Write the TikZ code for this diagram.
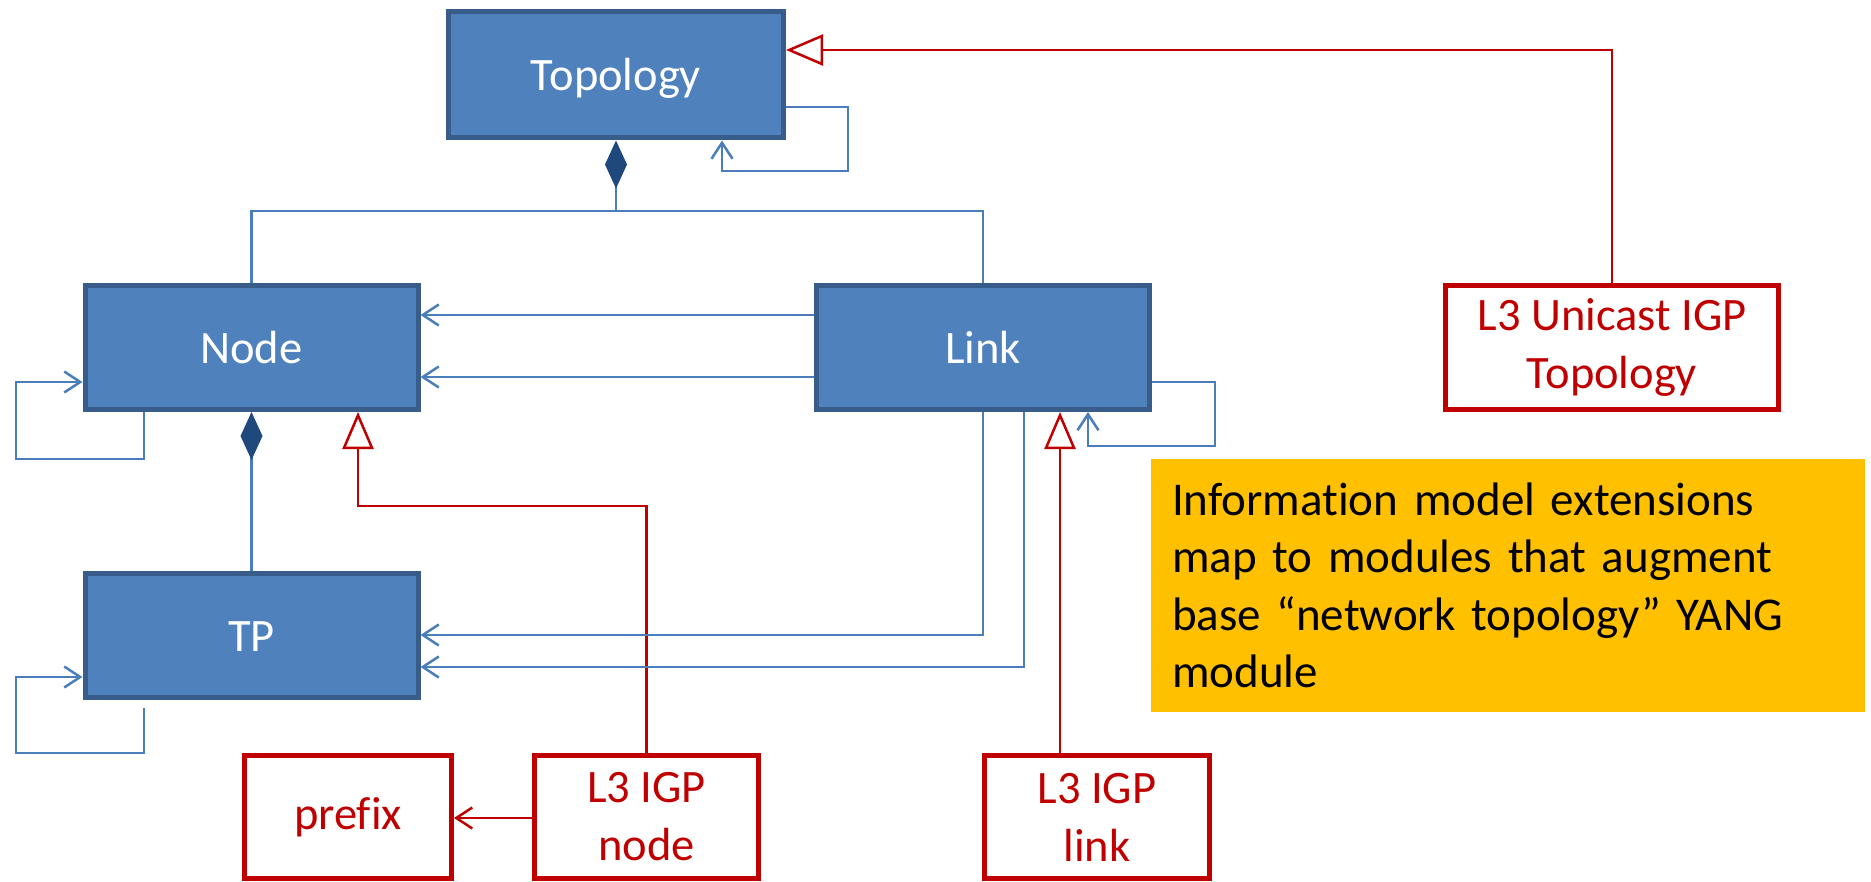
\documentclass[tikz,border=0pt]{standalone}
\usepackage{fontspec}
\setmainfont{Carlito}[Ligatures={NoCommon}]
\usetikzlibrary{arrows.meta}
\definecolor{bfill}{HTML}{4F81BD}
\definecolor{bborder}{HTML}{385D8A}
\definecolor{lblue}{HTML}{4A7EBB}
\definecolor{dblue}{HTML}{1F497D}
\definecolor{rred}{HTML}{C00000}
\definecolor{orng}{HTML}{FFC000}
\tikzset{
  bluebox/.style={draw=bborder, fill=bfill, line width=5pt, rectangle, inner sep=0pt,
    minimum width=333pt, minimum height=124pt, text=white,
    font=\fontsize{46.5pt}{57pt}\selectfont, text height=31pt, text depth=0pt},
  redbox/.style={draw=rred, fill=white, line width=5pt, rectangle, inner sep=0pt,
    minimum height=123pt, text=rred, align=center,
    font=\fontsize{46.5pt}{58pt}\selectfont},
  notebox/.style={fill=orng, rectangle, inner xsep=21pt, inner ysep=0pt,
    minimum height=253pt, text width=672pt, align=left,
    font=\fontsize{47pt}{57.5pt}\selectfont},
  assoc/.style={draw=lblue, line width=2.5pt, -{Straight Barb[length=16pt,width=21pt]}},
  conn/.style={draw=lblue, line width=2.5pt},
  gen/.style={draw=rred, line width=2.5pt, -{Triangle[open, length=37pt, width=31pt, fill=white]}},
  redassoc/.style={draw=rred, line width=2.5pt, -{Straight Barb[length=16pt,width=21pt]}},
  comp/.style={draw=lblue, line width=2.5pt, -{Diamond[length=48pt, width=22pt, color=dblue, fill=dblue]}}
}
\begin{document}
\begin{tikzpicture}[x=1pt, y=-1pt]
\useasboundingbox (0,0) rectangle (1871,882);

% class boxes
\node[bluebox, minimum width=335pt, minimum height=126pt] (topo) at (616,75) {Topology};
\node[bluebox] (node) at (251.5,347.5) {Node};
\node[bluebox] (link) at (983,347.5) {Link};
\node[bluebox] (tp) at (251.5,635.5) {TP};

% extension boxes
\node[redbox, minimum width=333pt, minimum height=124pt] (uni) at (1612,347.5) {L3 Unicast IGP\\Topology};
\node[redbox, minimum width=207pt] (prefix) at (348,817) {prefix};
\node[redbox, minimum width=224pt] (igpnode) at (646.5,817) {L3 IGP\\node};
\node[redbox, minimum width=225pt] (igplink) at (1097,817) {L3 IGP\\link};

% note
\node[notebox] (note) at (1508,585.5) {Information model extensions map to modules that augment base “network topology” YANG module};

% Topology: generalization from L3 Unicast
\draw[gen] (uni.north) |- (topo.east |- 0,50);
% Topology self loop
\draw[assoc] (topo.east |- 0,107) -| (848,171) -| (topo.south -| 722,0);
% composition Topology - Node/Link
\draw[comp] (616,211) -- (topo.south);
\draw[conn] (node.north) |- (link.north |- 0,211) -- (link.north);

% Link -> Node
\draw[assoc] (link.west |- 0,315) -- (node.east |- 0,315);
\draw[assoc] (link.west |- 0,377) -- (node.east |- 0,377);

% Node self loop
\draw[assoc] (node.south -| 144,0) |- (16,459) |- (node.west |- 0,382);
% Node - TP composition
\draw[comp] (tp.north) -- (node.south);
% generalization L3 IGP node -> Node
\draw[gen] (igpnode.north) |- (358,506) -- (node.south -| 358,0);

% TP self loop
\draw[assoc] (144,708) |- (16,753) |- (tp.west |- 0,677);

% Link -> TP
\draw[assoc] (link.south -| 983,0) |- (tp.east |- 0,635);
\draw[assoc] (link.south -| 1024,0) |- (tp.east |- 0,667);

% generalization L3 IGP link -> Link
\draw[gen] (igplink.north -| 1060,0) -- (link.south -| 1060,0);

% Link self loop
\draw[assoc] (link.east |- 0,382) -| (1215,446) -| (link.south -| 1088,0);

% L3 IGP node -> prefix
\draw[redassoc] (igpnode.west |- 0,818) -- (prefix.east |- 0,818);
\end{tikzpicture}
\end{document}
